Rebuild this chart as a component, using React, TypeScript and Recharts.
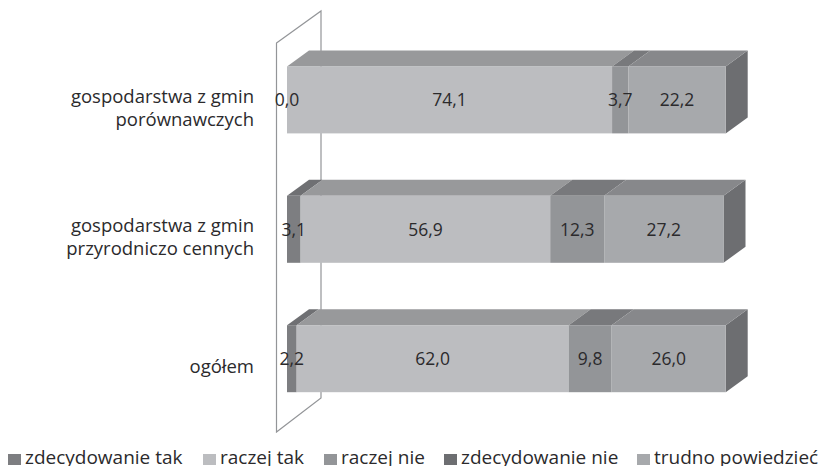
import { BarChart, Bar, XAxis, YAxis, Legend, LabelList, ReferenceArea } from "recharts";

const categories = ["gospodarstwa z gmin\nporównawczych", "gospodarstwa z gmin\nprzyrodniczo cennych", "ogółem"];
const zdecydowanieTak = [0.0, 3.1, 2.2];
const raczejTak = [74.1, 56.9, 62.0];
const raczejNie = [3.7, 12.3, 9.8];
const zdecydowanieNie = [0, 0, 0];
const trudnoPowiedziec = [22.2, 27.2, 26.0];

const chartData = categories.map((name, i) => ({
  name,
  zdecydowanieTak: zdecydowanieTak[i],
  raczejTak: raczejTak[i],
  raczejNie: raczejNie[i],
  zdecydowanieNie: zdecydowanieNie[i],
  trudnoPowiedziec: trudnoPowiedziec[i],
}));

const FONT = "'Open Sans', sans-serif";
const TEXT_COLOR = "#2b2a2c";
// how far the bars are pushed back to fake the 3D look
const DEPTH_X = 22;
const DEPTH_Y = 16;
const legendLefts = [8, 203, 324, 444, 637];

const formatValue = (v: any) => Number(v).toFixed(1).replace(".", ",");
const labelStyle = { fontFamily: FONT, fontSize: 17.5, fill: TEXT_COLOR };

const Bar3D = ({ x, y, width, height, fill, topFill, sideFill }: any) => {
  if (width <= 0) return null;
  return (
    <g>
      {sideFill && (
        <polygon
          points={`${x + width},${y} ${x + width + DEPTH_X},${y - DEPTH_Y} ${x + width + DEPTH_X},${y + height - DEPTH_Y} ${x + width},${y + height}`}
          fill={sideFill}
        />
      )}
      <polygon
        points={`${x},${y} ${x + DEPTH_X},${y - DEPTH_Y} ${x + width + DEPTH_X},${y - DEPTH_Y} ${x + width},${y}`}
        fill={topFill}
      />
      <rect x={x} y={y} width={width} height={height} fill={fill} />
    </g>
  );
};

const Wall = ({ x, y, height }: any) => {
  const bottom = y + height;
  return (
    <polygon
      points={`${x - 10.5},${y + 7.6} ${x + 34},${y - 24.4} ${x + 34},${bottom - 25.6} ${x - 10.5},${bottom + 8.4}`}
      fill="none"
      stroke="#939598"
      strokeWidth={1.2}
    />
  );
};

const CategoryTick = ({ x, y, payload }: any) => {
  const lines = String(payload.value).split("\n");
  return (
    <text x={x} textAnchor="end" fontFamily={FONT} fontSize={18.5} fill={TEXT_COLOR}>
      {lines.map((line, i) => (
        <tspan key={i} x={x} y={y + 14 - (lines.length - 1) * 11.5 + i * 23}>
          {line}
        </tspan>
      ))}
    </text>
  );
};

const LegendContent = ({ payload }: any) => (
  <div style={{ position: "relative", width: 818, height: 26, fontFamily: FONT, fontSize: 19, color: TEXT_COLOR }}>
    {(payload || []).map((item: any, i: number) => (
      <div key={item.value} style={{ position: "absolute", left: legendLefts[i], top: 7, whiteSpace: "nowrap", lineHeight: "20px" }}>
        <span style={{ display: "inline-block", width: 13, height: 11, marginRight: 4, background: item.color, position: "relative", top: 1 }} />
        {item.value}
      </div>
    ))}
  </div>
);

export default function App() {
  return (
    <div style={{ position: "absolute", left: 0, top: 0, width: 818, height: 466, overflow: "hidden" }}>
      <BarChart
        width={818}
        height={466}
        data={chartData}
        layout="vertical"
        barSize={67}
        margin={{ top: 35.4, right: 92.3, bottom: 16.4, left: 0 }}
      >
        <XAxis type="number" domain={[0, 100]} hide />
        <YAxis type="category" dataKey="name" width={287} axisLine={false} tickLine={false} tickMargin={0} tick={<CategoryTick />} tickSize={33} />
        <ReferenceArea x1={0} x2={100} shape={<Wall />} />
        <Legend
          content={<LegendContent />}
          itemSorter={null}
          wrapperStyle={{ position: "absolute", left: 0, bottom: 0, width: 818, height: 26 }}
        />
        <Bar dataKey="zdecydowanieTak" name="zdecydowanie tak" stackId="a" fill="#7d7e81" isAnimationActive={false} shape={<Bar3D topFill="#6f7073" />}>
          <LabelList dataKey="zdecydowanieTak" position="center" formatter={formatValue} style={labelStyle} />
        </Bar>
        <Bar dataKey="raczejTak" name="raczej tak" stackId="a" fill="#bcbdc0" isAnimationActive={false} shape={<Bar3D topFill="#98999b" />}>
          <LabelList dataKey="raczejTak" position="center" formatter={formatValue} style={labelStyle} />
        </Bar>
        <Bar dataKey="raczejNie" name="raczej nie" stackId="a" fill="#939598" isAnimationActive={false} shape={<Bar3D topFill="#78797c" />}>
          <LabelList dataKey="raczejNie" position="center" formatter={formatValue} style={labelStyle} />
        </Bar>
        <Bar dataKey="zdecydowanieNie" name="zdecydowanie nie" stackId="a" fill="#6d6e71" isAnimationActive={false} shape={<Bar3D topFill="#58595b" />} />
        <Bar dataKey="trudnoPowiedziec" name="trudno powiedzieć" stackId="a" fill="#a7a9ac" isAnimationActive={false} shape={<Bar3D topFill="#87888b" sideFill="#6d6e71" />}>
          <LabelList dataKey="trudnoPowiedziec" position="center" formatter={formatValue} style={labelStyle} />
        </Bar>
      </BarChart>
    </div>
  );
}
